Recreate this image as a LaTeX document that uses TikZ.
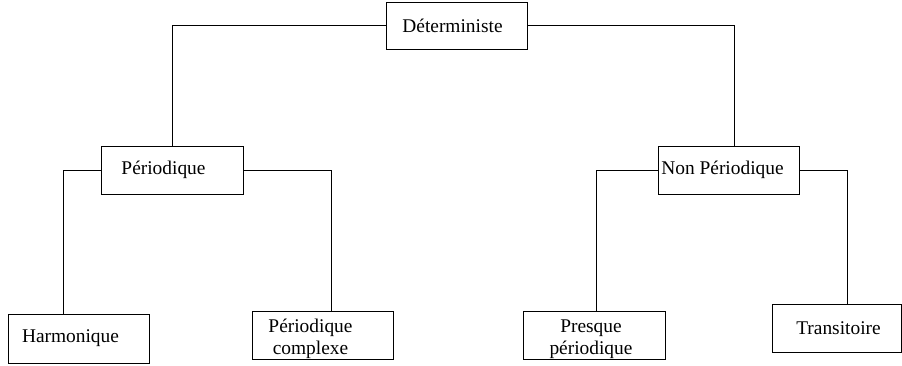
\documentclass[tikz,border=0pt]{standalone}
\usepackage{fontspec}
\setmainfont{Liberation Serif}
\begin{document}
\begin{tikzpicture}[x=1pt,y=-1pt,
  box/.style={draw, line width=0.8pt, inner sep=0pt},
  txt/.style={font=\fontsize{19.4}{22}\selectfont, align=center, inner sep=0pt},
  conn/.style={line width=0.8pt}]
\useasboundingbox (0,0) rectangle (902,366);
\node[box, minimum width=141, minimum height=47,
  label={[txt, xshift=-4pt]center:Déterministe}] (det) at (456.5,25.5) {};
\node[box, minimum width=142, minimum height=48,
  label={[txt, xshift=-8.5pt]center:Périodique}] (per) at (172,170) {};
\node[box, minimum width=141, minimum height=48,
  label={[txt, xshift=-6pt]center:Non Périodique}] (non) at (728.5,170) {};
\node[box, minimum width=141, minimum height=49,
  label={[txt, xshift=-8pt]center:Harmonique}] (har) at (78.5,338.5) {};
\node[box, minimum width=141, minimum height=48,
  label={[txt, xshift=-12pt, yshift=-4pt]center:Périodique\\complexe}] (pc) at (322.5,335) {};
\node[box, minimum width=142, minimum height=48,
  label={[txt, xshift=-3pt, yshift=-4pt]center:Presque\\périodique}] (pp) at (594,335) {};
\node[box, minimum width=129, minimum height=48,
  label={[txt, xshift=2pt]center:Transitoire}] (tr) at (836.5,328) {};
\draw[conn] (det.west) -| (per.north);
\draw[conn] (det.east) -| ([xshift=5.5]non.north);
\draw[conn] (per.west) -| ([xshift=-15.5]har.north);
\draw[conn] (per.east) -| ([xshift=8.5]pc.north);
\draw[conn] (non.west) -| ([xshift=2]pp.north);
\draw[conn] (non.east) -| ([xshift=10.5]tr.north);
\end{tikzpicture}
\end{document}
